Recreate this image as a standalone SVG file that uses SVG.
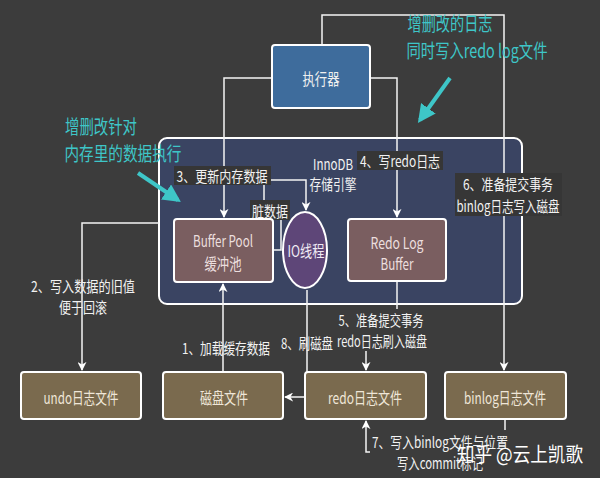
<svg xmlns="http://www.w3.org/2000/svg" width="600" height="478" viewBox="0 0 600 478">
<defs>
<marker id="ah" viewBox="0 0 10 10" refX="9" refY="5" markerWidth="9" markerHeight="9" markerUnits="userSpaceOnUse" orient="auto">
<path d="M0,0 L10,5 L0,10 L3,5 z" fill="#ffffff"/>
</marker>
<marker id="cy" viewBox="0 0 10 10" refX="8" refY="5" markerWidth="4.5" markerHeight="4.5" orient="auto">
<path d="M0,0 L10,5 L0,10 z" fill="#3ec6c8"/>
</marker>
<style>
text{font-family:"Noto Sans CJK SC","Liberation Sans",sans-serif;dominant-baseline:central;text-anchor:middle;}
.lbl{font-size:15px;fill:#f2f2f2;}
.box{font-size:16px;}
.cyan{font-size:19px;fill:#3ec6c8;}
.conn{fill:none;stroke:#f4f4f4;stroke-width:1.5;}
.lb{fill:#363636;}
.lbo{fill:#3c3c3c;}
.file{fill:#7a6a4e;stroke:#ffffff;stroke-width:2;}
</style>
</defs>
<rect x="0" y="0" width="600" height="478" fill="#3c3c3c"/>
<g id="innodb">
<rect x="159" y="138" width="363" height="166" rx="8" fill="#3a4462" stroke="#ffffff" stroke-width="2"/>
<text class="lbl" x="333" y="163" textLength="40" lengthAdjust="spacingAndGlyphs">InnoDB</text>
<text class="lbl" x="333" y="183" textLength="47" lengthAdjust="spacingAndGlyphs">存储引擎</text>
</g>
<g id="connectors">
<path class="conn" d="M322,45 V15 H504 V370" marker-end="url(#ah)"/>
<path class="conn" d="M272,78 H224 V217" marker-end="url(#ah)"/>
<path class="conn" d="M370,78 H397 V217" marker-end="url(#ah)"/>
<path class="conn" d="M273,250 H281 V205 H264 V180 H306 V210" marker-end="url(#ah)"/>
<path class="conn" d="M159,223 H82 V370" marker-end="url(#ah)"/>
<path class="conn" d="M223,372 V284" marker-end="url(#ah)"/>
<path class="conn" d="M307,290 V397 H285" marker-end="url(#ah)"/>
<path class="conn" d="M397,281 V330 H366 V370" marker-end="url(#ah)"/>
<path class="conn" d="M505,419 V452 H366 V421" marker-end="url(#ah)"/>
<rect class="lb" x="174" y="166" width="97" height="19"/>
<text class="lbl" x="222" y="175" textLength="91" lengthAdjust="spacingAndGlyphs">3、更新内存数据</text>
<rect class="lb" x="250" y="200" width="40" height="20"/>
<text class="lbl" x="270" y="210" textLength="36" lengthAdjust="spacingAndGlyphs">脏数据</text>
<rect class="lb" x="357" y="151" width="86" height="19"/>
<text class="lbl" x="400" y="160" textLength="80" lengthAdjust="spacingAndGlyphs">4、写redo日志</text>
<rect class="lb" x="455" y="173" width="107" height="43"/>
<text class="lbl" x="508" y="183" textLength="90" lengthAdjust="spacingAndGlyphs">6、准备提交事务</text>
<text class="lbl" x="508" y="205" textLength="103" lengthAdjust="spacingAndGlyphs">binlog日志写入磁盘</text>
<text class="lbl" x="83" y="285" textLength="104" lengthAdjust="spacingAndGlyphs">2、写入数据的旧值</text>
<text class="lbl" x="83" y="306" textLength="48" lengthAdjust="spacingAndGlyphs">便于回滚</text>
<text class="lbl" x="226" y="347" textLength="88" lengthAdjust="spacingAndGlyphs">1、加载缓存数据</text>
<text class="lbl" x="307" y="342" textLength="52" lengthAdjust="spacingAndGlyphs">8、刷磁盘</text>
<rect class="lbo" x="335" y="309" width="94" height="42"/>
<text class="lbl" x="381" y="319" textLength="85" lengthAdjust="spacingAndGlyphs">5、准备提交事务</text>
<text class="lbl" x="382" y="340" textLength="90" lengthAdjust="spacingAndGlyphs">redo日志刷入磁盘</text>
<rect class="lbo" x="370" y="430" width="140" height="42"/>
<text class="lbl" x="440" y="441" textLength="136" lengthAdjust="spacingAndGlyphs">7、写入binlog文件与位置</text>
<text class="lbl" x="440" y="462" textLength="86" lengthAdjust="spacingAndGlyphs">写入commit标记</text>
</g>
<g id="executor">
<rect x="272" y="45" width="98" height="63" rx="3" fill="#3e6c9c" stroke="#ffffff" stroke-width="2"/>
<text class="box" x="321" y="78" fill="#f0f0f0" textLength="37" lengthAdjust="spacingAndGlyphs">执行器</text>
</g>
<g id="bufferpool">
<rect x="174" y="219" width="99" height="63" rx="3" fill="#7a5e60" stroke="#ffffff" stroke-width="2"/>
<text class="box" x="223" y="240" fill="#ecdede" textLength="60" lengthAdjust="spacingAndGlyphs">Buffer Pool</text>
<text class="box" x="223" y="263" fill="#ecdede" textLength="37" lengthAdjust="spacingAndGlyphs">缓冲池</text>
</g>
<g id="iothread">
<ellipse cx="305" cy="250" rx="22" ry="38" fill="#5e4678" stroke="#ffffff" stroke-width="2"/>
<text class="box" x="306" y="250" fill="#f0eaf4" textLength="37" lengthAdjust="spacingAndGlyphs">IO线程</text>
</g>
<g id="redologbuffer">
<rect x="348" y="219" width="98" height="62" rx="3" fill="#7a5e60" stroke="#ffffff" stroke-width="2"/>
<text class="box" x="397" y="242" fill="#ecdede" textLength="53" lengthAdjust="spacingAndGlyphs">Redo Log</text>
<text class="box" x="397" y="263" fill="#ecdede" textLength="33" lengthAdjust="spacingAndGlyphs">Buffer</text>
</g>
<g id="undofile">
<rect class="file" x="21" y="372" width="120" height="47" rx="3"/>
<text class="box" x="81" y="397" fill="#efe6d8" textLength="75" lengthAdjust="spacingAndGlyphs">undo日志文件</text>
</g>
<g id="diskfile">
<rect class="file" x="163" y="372" width="120" height="47" rx="3"/>
<text class="box" x="224" y="397" fill="#efe6d8" textLength="48" lengthAdjust="spacingAndGlyphs">磁盘文件</text>
</g>
<g id="redofile">
<rect class="file" x="305" y="372" width="121" height="47" rx="3"/>
<text class="box" x="365" y="397" fill="#efe6d8" textLength="74" lengthAdjust="spacingAndGlyphs">redo日志文件</text>
</g>
<g id="binlogfile">
<rect class="file" x="445" y="372" width="121" height="47" rx="3"/>
<text class="box" x="505" y="397" fill="#efe6d8" textLength="82" lengthAdjust="spacingAndGlyphs">binlog日志文件</text>
</g>
<g id="annotations">
<text class="cyan" x="450" y="22" textLength="85" lengthAdjust="spacingAndGlyphs">增删改的日志</text>
<text class="cyan" x="477" y="49" textLength="141" lengthAdjust="spacingAndGlyphs">同时写入redo log文件</text>
<line x1="450" y1="78" x2="420" y2="120" stroke="#3ec6c8" stroke-width="4" marker-end="url(#cy)"/>
<text class="cyan" x="101" y="125" textLength="72" lengthAdjust="spacingAndGlyphs">增删改针对</text>
<text class="cyan" x="123" y="152" textLength="117" lengthAdjust="spacingAndGlyphs">内存里的数据执行</text>
<line x1="138" y1="173" x2="178" y2="200" stroke="#3ec6c8" stroke-width="4" marker-end="url(#cy)"/>
<text x="520" y="453" font-size="20" fill="#ffffff" textLength="126" lengthAdjust="spacingAndGlyphs">知乎 @云上凯歌</text>
</g>
</svg>
